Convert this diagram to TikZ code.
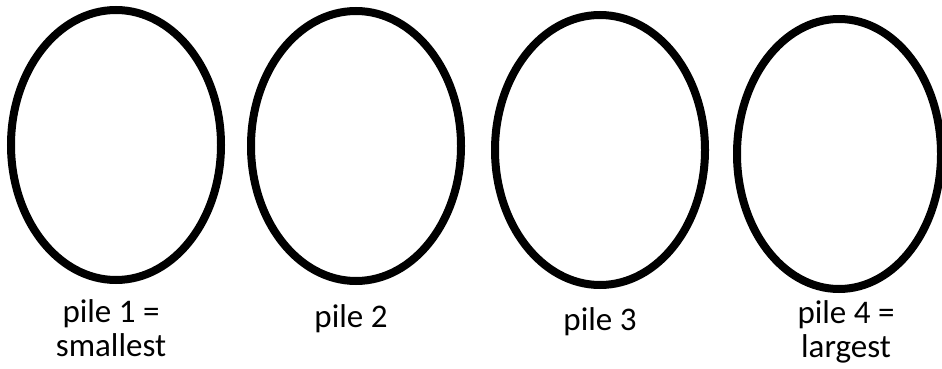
\documentclass[tikz,border=0pt]{standalone}
\usepackage{fontspec}
\setmainfont{Carlito}[Numbers=Lining]
\usepackage{tikz}
\usetikzlibrary{shapes.geometric, positioning}
\tikzstyle{pile} = [ellipse, draw=black, line width=8pt, minimum width=210pt, minimum height=270pt, inner sep=0pt]
\tikzstyle{piletext} = [text=black, align=center, inner sep=0pt, outer sep=0pt, font=\fontsize{33}{34}\selectfont]

\begin{document}
\begin{tikzpicture}[x=1pt, y=-1pt]
  \useasboundingbox (0,0) rectangle (942,369);
  \clip (0,0) rectangle (942,369);

  \node[pile] (p1) at (116,145) {};
  \node[pile] (p2) at (356,146) {};
  \node[pile] (p3) at (600,150) {};
  \node[pile, minimum width=204pt] (p4) at (839,154) {};

  \node[piletext, below=16pt of p1, xshift=-5pt] (t1) {pile 1 =\\smallest};
  \node[piletext, below=20pt of p2, xshift=-5pt] (t2) {pile 2};
  \node[piletext, below=19pt of p3] (t3) {pile 3};
  \node[piletext, below=8pt of p4, xshift=7pt] (t4) {pile 4 =\\largest};
\end{tikzpicture}
\end{document}
